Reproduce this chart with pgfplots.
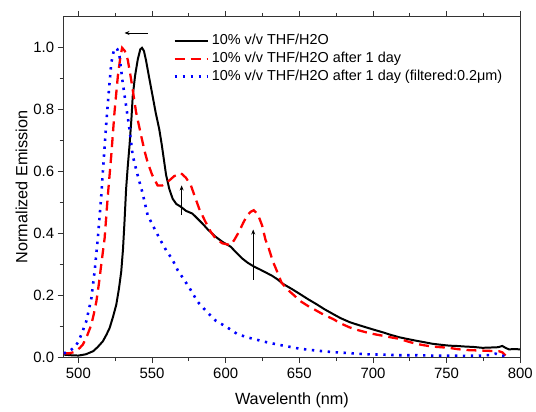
\documentclass[border=0pt]{standalone}
\usepackage{pgfplots}
\pgfplotsset{compat=1.18}
\usepackage{fontspec}
\setmainfont{Liberation Sans}
\usetikzlibrary{arrows.meta}
\begin{document}
\begin{tikzpicture}
\begin{axis}[
  scale only axis,
  width=459pt, height=342pt,
  xmin=490, xmax=800, ymin=0, ymax=1.1,
  xtick={500,550,...,800}, minor x tick num=1,
  ytick={0,0.2,...,1.0}, minor y tick num=1,
  tick align=outside,
  xtick pos=both, ytick pos=left,
  major tick length=6pt, minor tick length=4pt,
  axis line style={line width=1.1pt, black!80},
  every tick/.style={line width=0.9pt, black!80},
  /pgf/number format/assume math mode=true,
  yticklabel style={/pgf/number format/fixed, /pgf/number format/precision=1, /pgf/number format/fixed zerofill, font=\fontsize{15}{17}\selectfont},
  xticklabel style={yshift=-1pt, font=\fontsize{15}{17}\selectfont},
  xlabel={Wavelenth (nm)},
  ylabel={Normalized Emission},
  xlabel style={font=\fontsize{16.3}{19}\selectfont, yshift=-8pt},
  ylabel style={font=\fontsize{16.3}{19}\selectfont, yshift=-1pt},
  legend cell align=left,
  legend style={draw=none, fill=none, at={(0.240,0.952)}, anchor=north west,
    font=\fontsize{14.5}{17}\selectfont, inner sep=0pt, row sep=2.3pt, column sep=2pt,
    nodes={inner sep=1pt, text height=10.5pt, text depth=3pt}},
  legend image code/.code={\draw[#1] (0pt,0pt) -- (33pt,0pt);},
]
\addplot[black, line width=2pt] coordinates {
(490,0.008) (495,0.006) (500,0.005) (505,0.009) (510,0.019) (513,0.032) (516.6,0.051) (519,0.072) (521.2,0.094) (523.5,0.13) (525.7,0.169) (527.5,0.22) (529.1,0.277) (530.3,0.35) (531.3,0.437) (532.4,0.544) (533.5,0.615) (534.7,0.684) (536,0.77) (536.9,0.844) (538.5,0.91) (540.3,0.962) (542,0.995) (543.2,1.0) (544.5,0.99) (545.9,0.96) (548,0.905) (550.4,0.844) (552.5,0.79) (554.9,0.737) (556.5,0.69) (558.3,0.63) (559.5,0.59) (561.7,0.544) (564,0.512) (566.5,0.495) (569.6,0.486) (573,0.473) (577.4,0.464) (580,0.452) (584.2,0.432) (588,0.412) (593.2,0.389) (598,0.372) (603.4,0.357) (607,0.339) (611.2,0.319) (615,0.305) (619.1,0.293) (623,0.284) (627.9,0.272) (631.5,0.263) (635,0.252) (639.2,0.236) (645,0.22) (650.4,0.204) (656,0.187) (661.7,0.171) (667,0.155) (673,0.139) (678,0.126) (684.2,0.113) (690,0.104) (695.5,0.096) (701,0.088) (706.8,0.080) (712,0.072) (718,0.064) (724,0.058) (729.3,0.053) (735,0.048) (740.5,0.043) (746,0.040) (751.8,0.037) (757,0.036) (763,0.034) (768,0.033) (774.3,0.030) (780,0.031) (785,0.032) (787.8,0.036) (790,0.030) (792.3,0.025) (796,0.026) (800,0.025)
};
\addlegendentry{10\% v/v THF/H2O}
\addplot[red, line width=2.3pt, dash pattern=on 10pt off 6pt] coordinates {
(490,0.012) (494,0.012) (498,0.018) (501,0.030) (503.1,0.041) (506,0.070) (508.8,0.105) (510.5,0.14) (512.2,0.18) (514,0.24) (515.5,0.298) (517.8,0.384) (520,0.523) (522.3,0.651) (524.5,0.791) (526.8,0.909) (528.5,0.97) (529.7,1.0) (531.5,0.99) (533.5,0.962) (535.8,0.898) (537.5,0.845) (539.2,0.791) (542.6,0.716) (545,0.665) (547,0.63) (550,0.59) (553.8,0.555) (557,0.555) (561.7,0.571) (565,0.585) (569.6,0.595) (573,0.58) (576.4,0.555) (579,0.52) (582,0.48) (586,0.44) (589.9,0.405) (593,0.385) (597.7,0.368) (603.4,0.362) (606,0.38) (609,0.405) (612,0.435) (614.6,0.458) (617,0.47) (619.1,0.475) (622,0.46) (624.7,0.426) (627,0.38) (629.3,0.351) (632,0.31) (634.9,0.277) (638,0.24) (642.8,0.215) (647.3,0.196) (650.4,0.182) (656,0.165) (661.7,0.150) (667,0.136) (673,0.123) (678,0.109) (684.2,0.096) (690,0.087) (695.5,0.080) (701,0.074) (706.8,0.069) (712,0.064) (718,0.059) (724,0.050) (729.3,0.043) (735,0.038) (740.5,0.034) (746,0.032) (751.8,0.030) (757,0.026) (763,0.023) (768,0.022) (774.3,0.021) (780,0.020) (785.6,0.019) (788,0.015) (790,0.005)
};
\addlegendentry{10\% v/v THF/H2O after 1 day}
\addplot[blue, line width=2.6pt, dash pattern=on 2.4pt off 5.6pt] coordinates {
(490,0.012) (494,0.020) (497.5,0.032) (500,0.050) (502,0.073) (505.4,0.116) (508.8,0.19) (511,0.277) (513.2,0.384) (515.5,0.52) (517.5,0.66) (519,0.76) (520.5,0.85) (522.3,0.95) (524,0.99) (525.2,1.0) (526.5,0.995) (527.9,0.973) (530.1,0.887) (532.4,0.812) (534.7,0.737) (536.9,0.651) (540.3,0.587) (543.7,0.528) (547,0.459) (551.6,0.416) (555,0.384) (559.5,0.346) (564,0.314) (567.3,0.282) (571.8,0.25) (576.4,0.216) (580.8,0.18) (586.5,0.15) (593.2,0.118) (601.1,0.096) (607.8,0.075) (614.6,0.064) (623.7,0.053) (627.9,0.048) (639.2,0.037) (650.4,0.027) (661.7,0.021) (673,0.016) (684,0.013) (695.5,0.009) (706.8,0.008) (718,0.006) (729,0.006) (740,0.005) (752,0.005) (763,0.004) (774,0.005) (780,0.007) (783.3,0.011) (786,0.006) (790,0.003)
};
\addlegendentry{10\% v/v THF/H2O after 1 day (filtered:0.2μm)}
\draw[-{Stealth[length=5pt,width=4pt]}, line width=0.8pt] (axis cs:547,1.048) -- (axis cs:531.3,1.048);
\draw[-{Stealth[length=5pt,width=4pt]}, line width=0.8pt] (axis cs:570.1,0.459) -- (axis cs:570.1,0.555);
\draw[-{Stealth[length=5pt,width=4pt]}, line width=0.8pt] (axis cs:618.7,0.25) -- (axis cs:618.7,0.4125);
\coordinate (bl) at (rel axis cs:0,0);
\coordinate (tr) at (rel axis cs:1,1);
\end{axis}
\path ([xshift=-64pt,yshift=-54pt]bl) rectangle ([xshift=13pt,yshift=17pt]tr);
\end{tikzpicture}
\end{document}
